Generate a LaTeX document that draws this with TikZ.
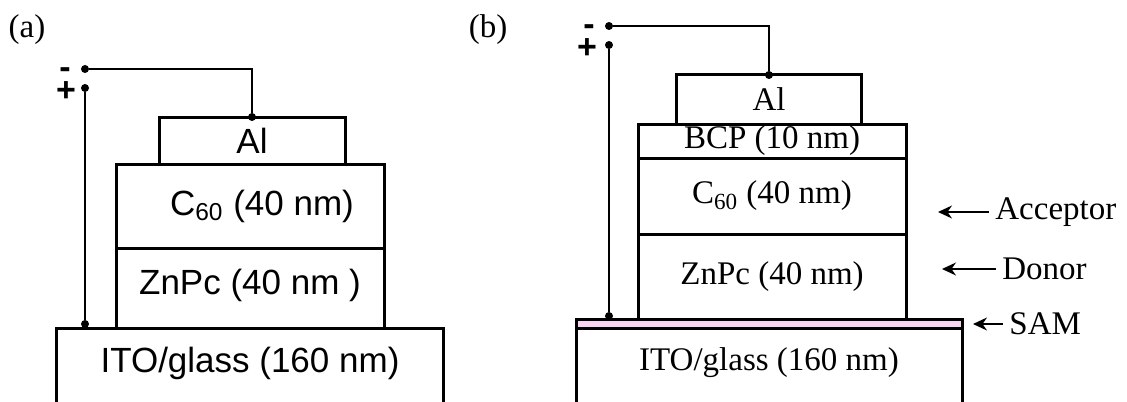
\documentclass[tikz,border=0pt]{standalone}
\usepackage{fontspec}
\setmainfont{Liberation Serif}
\newfontfamily\arial{Liberation Sans}
\usetikzlibrary{positioning, arrows.meta}
\definecolor{sampink}{RGB}{246,212,242}

\begin{document}
\begin{tikzpicture}[
        x=0.5pt, y=-0.5pt,
        sf/.style        ={font=\arial\fontsize{17.5}{21}\selectfont},
        rm/.style        ={font=\fontsize{16.5}{20}\selectfont},
        layer/.style     ={draw, line width=1.5pt, inner sep=0pt, outer sep=0pt,
                           fill=white, align=center},
        slab/.style      ={inner sep=0pt, outer sep=0pt},
        rim/.style       ={line width=1.5pt},
        wire/.style      ={line width=0.75pt},
        dot/.style       ={circle, fill=black, inner sep=0pt, outer sep=0pt,
                           minimum size=4pt},
        sign/.style      ={font=\arial\bfseries\fontsize{17}{20}\selectfont, inner sep=0pt},
        note/.style      ={rm, anchor=west, inner xsep=3pt, inner ysep=0pt},
        arr/.style       ={-{Stealth[length=7pt, width=6.5pt]}, line width=0.75pt}
    ]
      \clip (0,0) rectangle (1127,401);

      % ===== (a) Al / C60 / ZnPc on ITO =====
      \node[rm] (tagA) at (27,30) {(a)};
      \node[slab, sf, minimum width=193.5pt, minimum height=35pt] (itoA) at (250,363)
            {ITO/glass (160 nm)};
      \draw[rim] ([yshift=-20pt]itoA.south west) -- (itoA.north west)
                 -- (itoA.north east) -- ([yshift=-20pt]itoA.south east);
      \node[layer, sf, minimum width=134pt, minimum height=40pt, text depth=0.6em,
            above=0pt of itoA] (znpcA) {ZnPc (40 nm )};
      \node[layer, sf, minimum width=134pt, minimum height=42pt, above=0pt of znpcA]
            (cA) {\hspace*{12pt}C\textsubscript{60} (40 nm)};
      \node[layer, sf, minimum width=93pt, minimum height=23.5pt, above=0pt of cA,
            xshift=1pt] (alA) {Al};

      % contacts
      \node[dot] (negA) at (85,69) {};
      \node[dot] (posA) at (85,88) {};
      \node[dot] (topA) at (alA.north) {};
      \node[dot] (botA) at (85,324) {};
      \node[sign] (minusA) at (65,73) {-};
      \node[sign] (plusA)  at (66,92) {+};
      \draw[wire] (negA) -| (topA);
      \draw[wire] (posA) -- (botA);

      % ===== (b) Al / BCP / C60 / ZnPc / SAM on ITO =====
      \node[rm] (tagB) at (488,30) {(b)};
      \node[slab, rm, minimum width=193pt, minimum height=35pt] (itoB) at (769,363)
            {ITO/glass (160 nm)};
      \draw[rim] ([yshift=-20pt]itoB.south west) -- (itoB.north west)
                 -- (itoB.north east) -- ([yshift=-20pt]itoB.south east);
      \node[layer, fill=sampink, minimum width=193pt, minimum height=4.5pt,
            above=0pt of itoB] (samB) {};
      \node[layer, rm, minimum width=134pt, minimum height=42.5pt, above=0pt of samB,
            xshift=1.5pt] (znpcB) {ZnPc (40 nm)};
      \node[layer, rm, minimum width=134pt, minimum height=38pt, above=0pt of znpcB]
            (cB) {C\textsubscript{60} (40 nm)};
      \node[layer, rm, minimum width=134pt, minimum height=17pt, above=0pt of cB]
            (bcpB) {BCP (10 nm)};
      \node[layer, rm, minimum width=92.5pt, minimum height=24.5pt, above=0pt of bcpB,
            xshift=-1.5pt] (alB) {Al};

      % contacts
      \node[dot] (negB) at (609,26) {};
      \node[dot] (posB) at (609,45) {};
      \node[dot] (topB) at (alB.north) {};
      \node[dot] (botB) at (609,316) {};
      \node[sign] (minusB) at (589,30) {-};
      \node[sign] (plusB)  at (587,49) {+};
      \draw[wire] (negB) -| (topB);
      \draw[wire] (posB) -- (botB);

      % side notes
      \node[note] (acc) at (989,212) {Acceptor};
      \node[note] (don) at (996,269) {Donor};
      \node[note] (sam) at (1003,324) {SAM};
      \coordinate (accTip) at (938,212);
      \coordinate (donTip) at (942,269);
      \coordinate (samTip) at (973,324);
      \draw[arr] (acc) -- (accTip);
      \draw[arr] (don) -- (donTip);
      \draw[arr] (sam) -- (samTip);
    \end{tikzpicture}
\end{document}
